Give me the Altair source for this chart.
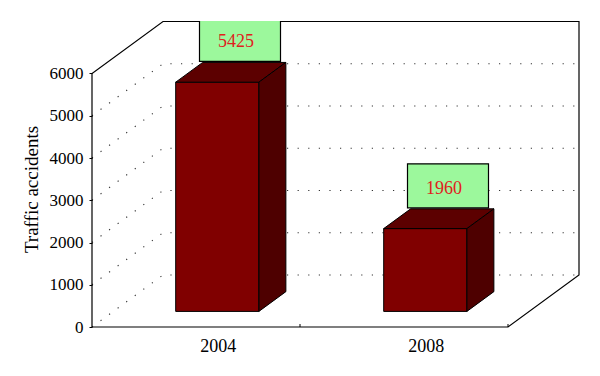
import altair as alt
import pandas as pd

# ---- data ----
years = ["2004", "2008"]
accidents = [5425, 1960]
y_ticks = [0, 1000, 2000, 3000, 4000, 5000, 6000]
y_title = "Traffic accidents"

# ---- layout constants (pixels of the plot area) ----
PLOT_W = 487          # front plane + depth offset
PLOT_H = 306
FRONT_W = 416         # width of the front plane
DEPTH_X = 71          # horizontal shift of the back wall
DEPTH_PX = 52         # vertical shift of the back wall
PX_PER_UNIT = 0.04225
Y_MAX = PLOT_H / PX_PER_UNIT
DEPTH_Y = DEPTH_PX / PX_PER_UNIT


def u(px):
    return px / PX_PER_UNIT


F1, F2 = 0.3, 0.68    # bar depth range (fraction of box depth)
n = len(years)
slot = FRONT_W / n
bar_w = 0.4 * slot
top_val = max(y_ticks)

FONT = "Liberation Serif"

xs = alt.Scale(domain=[0, PLOT_W], nice=False, zero=False)
ys = alt.Scale(domain=[0, Y_MAX], nice=False, zero=False)

Y_AXIS = alt.Axis(
    values=y_ticks, title=y_title, format="d", domain=False, grid=False,
    ticks=True, tickSize=3, tickColor="black", tickWidth=1,
    labelFont=FONT, labelFontSize=17, labelColor="black", labelPadding=6,
    titleFont=FONT, titleFontSize=19, titleFontWeight="normal", titleColor="black",
    titleX=-61, titleY=168, titleBaseline="middle", titleAlign="center",
)


def X(field):
    return alt.X(field, scale=xs, axis=None, title=None)


def Y(field):
    return alt.Y(field, scale=ys, axis=Y_AXIS, title=y_title)


# ---- frame outline ----
frame_pts = [
    (0, 0), (0, top_val), (DEPTH_X, top_val + DEPTH_Y), (PLOT_W, top_val + DEPTH_Y),
    (PLOT_W, DEPTH_Y), (FRONT_W, 0), (0, 0)
]
frame_df = pd.DataFrame({"o": range(len(frame_pts)),
                         "x": [p[0] for p in frame_pts],
                         "y": [p[1] for p in frame_pts]})

frame = alt.Chart(frame_df).mark_line(color="black", strokeWidth=1.2).encode(
    x=X("x:Q"), y=Y("y:Q"), order="o:Q",
)

# ---- dotted grid (side wall diagonal + back wall horizontal) ----
grid_rows = []
for v in y_ticks[:-1]:
    grid_rows += [
        {"lvl": v, "o": 0, "x": 0, "y": v},
        {"lvl": v, "o": 1, "x": DEPTH_X, "y": v + DEPTH_Y},
        {"lvl": v, "o": 2, "x": PLOT_W, "y": v + DEPTH_Y},
    ]
grid = alt.Chart(pd.DataFrame(grid_rows)).mark_line(
    color="#333333", strokeWidth=1.1, strokeDash=[1.2, 9.4]
).encode(
    x=X("x:Q"), y=Y("y:Q"), detail="lvl:N", order="o:Q",
)

# small ticks along the front bottom edge
xt_df = pd.DataFrame({"x": [slot * i for i in range(1, n + 1)]})
xticks = alt.Chart(xt_df).mark_rule(color="black", strokeWidth=1).encode(
    x=X("x:Q"), y=Y("y0:Q"), y2="y1:Q",
).transform_calculate(y0="0", y1=str(u(3)))

# ---- bars ----
front_rows, top_rows, side_rows, box_rows, lab_rows, yr_rows = [], [], [], [], [], []
for i, (yr, v) in enumerate(zip(years, accidents)):
    c = (i + 0.5) * slot
    L, R = c - bar_w / 2, c + bar_w / 2
    front_rows.append({"bar": yr, "x": L + F1 * DEPTH_X, "x2": R + F1 * DEPTH_X,
                       "y": F1 * DEPTH_Y, "y2": v + F1 * DEPTH_Y})
    for f in (F1, F2):
        top_rows.append({"bar": yr, "y": v + f * DEPTH_Y,
                         "x": L + f * DEPTH_X, "x2": R + f * DEPTH_X})
        side_rows.append({"bar": yr, "x": R + f * DEPTH_X,
                          "y": f * DEPTH_Y, "y2": v + f * DEPTH_Y})
    back_top = v + F2 * DEPTH_Y
    box_rows.append({"bar": yr, "x": c + 3.5, "x2": c + 84.5,
                     "y": back_top + u(1), "y2": back_top + u(45)})
    lab_rows.append({"bar": yr, "x": c + 40, "y": back_top + u(20), "t": str(v)})
    yr_rows.append({"x": c + F1 * DEPTH_X + 1, "y": -u(25), "t": yr})

front = alt.Chart(pd.DataFrame(front_rows)).mark_rect(
    fill="#800000", stroke="black", strokeWidth=1
).encode(x=X("x:Q"), x2="x2:Q", y=Y("y:Q"), y2="y2:Q")

top = alt.Chart(pd.DataFrame(top_rows)).mark_area(
    orient="horizontal", fill="#5c0000", stroke="black", strokeWidth=1, interpolate="linear"
).encode(y=Y("y:Q"), x=X("x:Q"), x2="x2:Q", detail="bar:N")

side = alt.Chart(pd.DataFrame(side_rows)).mark_area(
    orient="vertical", fill="#4e0000", stroke="black", strokeWidth=1, interpolate="linear"
).encode(x=X("x:Q"), y=Y("y:Q"), y2="y2:Q", detail="bar:N")

box = alt.Chart(pd.DataFrame(box_rows)).mark_rect(
    fill="#9cf89c", stroke="black", strokeWidth=1.2, clip=True
).encode(x=X("x:Q"), x2="x2:Q", y=Y("y:Q"), y2="y2:Q")

labels = alt.Chart(pd.DataFrame(lab_rows)).mark_text(
    font=FONT, fontSize=18, color="#e0201c", baseline="middle", align="center"
).encode(x=X("x:Q"), y=Y("y:Q"), text="t:N")

year_labels = alt.Chart(pd.DataFrame(yr_rows)).mark_text(
    font=FONT, fontSize=18, color="black", baseline="alphabetic", align="center"
).encode(x=X("x:Q"), y=Y("y:Q"), text="t:N")

chart = alt.layer(
    grid, frame, xticks, front, top, side, box, labels, year_labels
).properties(
    width=PLOT_W, height=PLOT_H,
    padding={"left": 92, "top": 21, "right": 21, "bottom": 49},
    autosize=alt.AutoSizeParams(type="none"),
    background="white",
).configure_view(stroke=None)

chart.save("out.html", embed_options={"renderer": "svg", "actions": False})
